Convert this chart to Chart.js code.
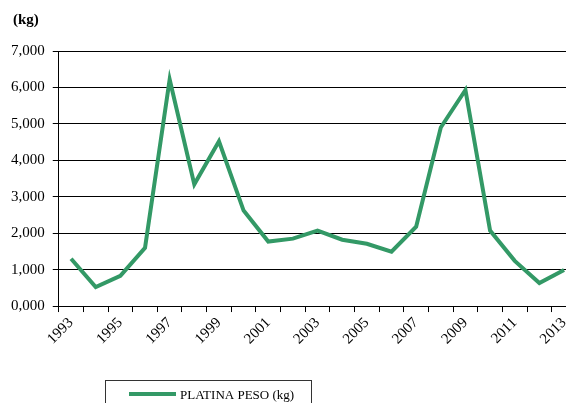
<!DOCTYPE html>
<html>
<head>
<meta charset="utf-8">
<script src="https://cdn.jsdelivr.net/npm/chart.js@4.4.1/dist/chart.umd.min.js"></script>
<style>
    html, body { margin: 0; padding: 0; background: #fff; }
    #wrap { width: 566px; height: 403px; }
</style>
</head>
<body>
<div id="wrap"><canvas id="platinaChart" width="566" height="403"></canvas></div>
<script>
// Data
const years = [1993, 1994, 1995, 1996, 1997, 1998, 1999, 2000, 2001, 2002, 2003,
    2004, 2005, 2006, 2007, 2008, 2009, 2010, 2011, 2012, 2013];
const platinaPeso = [1300, 520, 830, 1600, 6220, 3340, 4520, 2620, 1770, 1850, 2070,
    1820, 1710, 1490, 2180, 4900, 5930, 2070, 1240, 630, 990];
const xTickLabels = ['1993', '1995', '1997', '1999', '2001', '2003', '2005', '2007', '2009', '2011', '2013'];
const yTickLabels = ['0,000', '1,000', '2,000', '3,000', '4,000', '5,000', '6,000', '7,000'];
const seriesLabel = 'PLATINA PESO (kg)';
const unitLabel = '(kg)';

const green = '#339966';
const serif = '"Liberation Serif", "Times New Roman", serif';

// "(kg)" title and the boxed legend below the chart
const extrasPlugin = {
    id: 'extras',
    afterDraw(chart) {
        const ctx = chart.ctx;
        ctx.save();
        ctx.fillStyle = '#000';
        ctx.font = 'bold 15px ' + serif;
        ctx.textBaseline = 'alphabetic';
        ctx.fillText(unitLabel, 13, 24);

        // legend box
        ctx.strokeStyle = '#333';
        ctx.lineWidth = 1;
        ctx.strokeRect(105.5, 380.5, 206, 40);
        ctx.strokeStyle = green;
        ctx.lineWidth = 4;
        ctx.beginPath();
        ctx.moveTo(129, 394);
        ctx.lineTo(176, 394);
        ctx.stroke();
        ctx.fillStyle = '#000';
        ctx.font = '13px ' + serif;
        ctx.fillText(chart.data.datasets[0].label, 180, 399);
        ctx.restore();
    }
};

const ctx = document.getElementById('platinaChart').getContext('2d');
const platinaChart = new Chart(ctx, {
    type: 'line',
    data: {
        datasets: [{
            label: seriesLabel,
            data: years.map((y, i) => ({ x: y, y: platinaPeso[i] })),
            borderColor: green,
            backgroundColor: green,
            borderWidth: 4,
            pointRadius: 0,
            tension: 0,
            fill: false
        }]
    },
    options: {
        responsive: false,
        animation: false,
        layout: { padding: { left: 3, right: 0, top: 51, bottom: 53 } },
        plugins: {
            legend: { display: false },
            tooltip: { enabled: false }
        },
        scales: {
            x: {
                type: 'linear',
                min: 1992.5,
                max: 2013.08,
                afterBuildTicks(scale) {
                    const ticks = [];
                    for (let i = 0; i < years.length; i++) {
                        ticks.push({ value: years[i] - 0.5 });
                        if (xTickLabels.includes(String(years[i]))) ticks.push({ value: years[i] });
                    }
                    scale.ticks = ticks;
                },
                afterFit(scale) {
                    // the plot runs right up to the edge in the original
                    scale.paddingRight = 0;
                    scale.paddingLeft = 0;
                },
                border: { display: true, color: '#000', width: 1 },
                grid: {
                    drawOnChartArea: false,
                    tickLength: 6,
                    tickColor: (c) => (c.tick && Number.isInteger(c.tick.value)) ? 'rgba(0,0,0,0)' : '#000'
                },
                ticks: {
                    autoSkip: false,
                    minRotation: 45,
                    maxRotation: 45,
                    padding: 2,
                    color: '#000',
                    font: { family: serif, size: 15 },
                    callback: (v) => {
                        const s = String(v);
                        return xTickLabels.includes(s) ? s : '';
                    }
                }
            },
            y: {
                min: 0,
                max: 7000,
                border: { display: true, color: '#000', width: 1 },
                grid: { color: '#000', lineWidth: 1, tickLength: 6 },
                ticks: {
                    stepSize: 1000,
                    padding: 8,
                    color: '#000',
                    font: { family: serif, size: 15 },
                    callback: (v) => yTickLabels[Math.round(v / 1000)]
                }
            }
        }
    },
    plugins: [extrasPlugin]
});
</script>
</body>
</html>
